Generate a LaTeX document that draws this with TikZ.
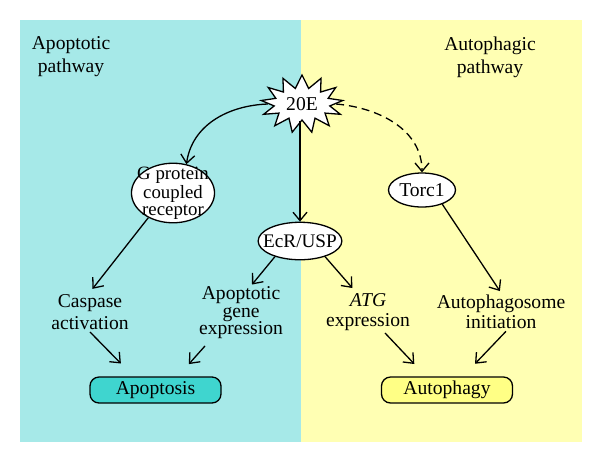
\documentclass[tikz,border=0pt]{standalone}
\usepackage{fontspec}
\setmainfont{Liberation Serif}
\usetikzlibrary{shapes.geometric,shapes.symbols,arrows.meta}
\definecolor{cyanbg}{HTML}{A6E9E8}
\definecolor{yellowbg}{HTML}{FFFFB3}
\definecolor{apopfill}{HTML}{3FD5CF}
\definecolor{autofill}{HTML}{FFFF85}
\tikzset{
  lbl/.style={font=\fontsize{9.8}{11}\selectfont, align=center, inner sep=1pt},
  arr/.style={-{Straight Barb[length=4.2pt,width=7pt]}, line width=0.65pt},
  ell/.style={ellipse, draw, line width=0.65pt, fill=white, align=center},
  outbox/.style={rounded corners=4.5pt, draw, line width=0.65pt, minimum width=65.5pt,
    minimum height=13pt, inner sep=0pt, font=\fontsize{9.8}{11}\selectfont},
}
\begin{document}
\begin{tikzpicture}[x=0.5pt,y=0.5pt]
\useasboundingbox (0,0) rectangle (600,-457);
\fill[cyanbg] (20,-20) rectangle (301,-442);
\fill[yellowbg] (301,-20) rectangle (582,-442);

\node[lbl, font=\fontsize{9.8}{11.5}\selectfont] (apl) at (71,-57) {Apoptotic\\pathway};
\node[lbl, font=\fontsize{9.8}{11.5}\selectfont] (atl) at (490,-57) {Autophagic\\pathway};

\node[starburst, draw, fill=white, line width=0.65pt, starburst points=13,
      starburst point height=6.5pt, random starburst=0, minimum width=41pt,
      minimum height=29pt, inner sep=0pt, font=\fontsize{9.8}{11}\selectfont] (E) at (302,-104) {20E};

\node[ell, inner xsep=-3.2pt, inner ysep=-2.6pt, font=\fontsize{9.4}{8.5}\selectfont] (gpcr) at (173,-193) {G protein\\coupled\\receptor};
\node[ell, minimum width=33.5pt, minimum height=17pt, inner sep=0pt, font=\fontsize{9.8}{11}\selectfont] (torc) at (422,-190) {Torc1};
\node[ell, inner xsep=-3.6pt, inner ysep=3.4pt, font=\fontsize{9.6}{11}\selectfont] (ecr) at (300,-241) {EcR/USP};

\node[lbl] (casp) at (90,-312) {Caspase\\activation};
\node[lbl, font=\fontsize{9.8}{8.75}\selectfont] (apg) at (241,-313) {Apoptotic\\gene\\expression};
\node[lbl, font=\fontsize{9.8}{10}\selectfont] (atg) at (368,-312) {\textit{ATG}\\expression};
\node[lbl, font=\fontsize{9.8}{10}\selectfont] (autoi) at (501,-312) {Autophagosome\\initiation};

\node[outbox, fill=apopfill] (apop) at (155.5,-390) {Apoptosis};
\node[outbox, fill=autofill] (autb) at (447,-390) {Autophagy};

\draw[arr] (E.west) to[out=182,in=82] (gpcr.65);
\draw[arr, dash pattern=on 4pt off 2.5pt] (E.east) to[out=-5,in=90] (torc.north);
\draw[arr] (ecr.north |- E.south) -- (ecr.north);

\draw[arr, shorten >=2pt] (gpcr.225) -- (casp.north);
\draw[arr] (ecr.212) -- ([xshift=5.5pt]apg.north);
\draw[arr, shorten >=2pt] (ecr.-32) -- ([xshift=-6.5pt]atg.north);
\draw[arr, shorten >=1pt] (torc.-35) -- (autoi.north);

\draw[arr, shorten >=9pt] (casp.south) -- ([xshift=-11pt]apop.north);
\draw[arr, shorten >=8.2pt, shorten <=3pt] ([xshift=-16pt]apg.south) -- ([xshift=11.2pt]apop.north);
\draw[arr, shorten >=8.5pt] ([xshift=8.5pt]atg.south) -- ([xshift=-10.5pt]autb.north);
\draw[arr, shorten >=8.7pt] ([xshift=2.5pt]autoi.south) -- ([xshift=8pt]autb.north);
\end{tikzpicture}
\end{document}
